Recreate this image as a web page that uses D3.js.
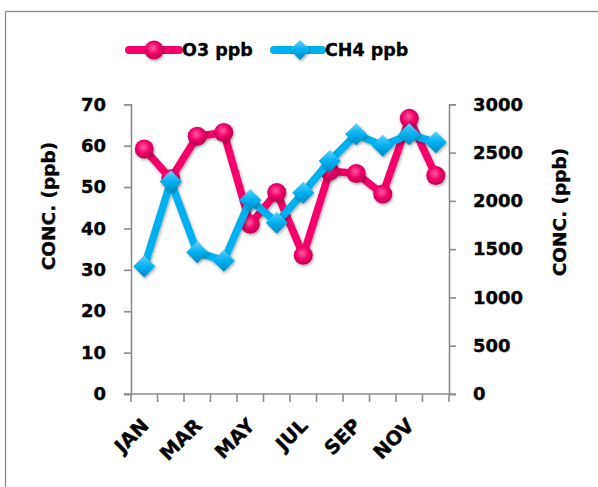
<!DOCTYPE html>
<html>
<head>
<meta charset="utf-8">
<script src="https://cdn.jsdelivr.net/npm/d3@7"></script>
<style>
  html, body { margin: 0; padding: 0; background: #fff; }
  svg { display: block; }
  text { font-family: "DejaVu Sans", sans-serif; font-weight: 700; fill: #000; stroke: #000; stroke-width: 0.35px; }
</style>
</head>
<body>
<svg id="chart" width="598" height="487"></svg>
<script>
// Monthly concentrations
const months = ["JAN","FEB","MAR","APR","MAY","JUN","JUL","AUG","SEP","OCT","NOV","DEC"];
const o3 = [59.2, 52.0, 62.3, 63.2, 41.0, 48.7, 33.5, 53.9, 53.3, 48.3, 66.6, 52.8];
const ch4 = [1320, 2200, 1467, 1381, 2009, 1774, 2085, 2413, 2689, 2572, 2689, 2606];
const leftTicks = [0, 10, 20, 30, 40, 50, 60, 70];
const rightTicks = [0, 500, 1000, 1500, 2000, 2500, 3000];
const shownMonths = ["JAN","MAR","MAY","JUL","SEP","NOV"];

const pink = "#F5006B";
const blue = "#00B0F0";
const axisGrey = "#8C8C8C";
const FONT = "'DejaVu Sans', sans-serif";

const svg = d3.select("#chart");

// outer frame
svg.append("rect")
  .attr("x", 5.5).attr("y", 11.5)
  .attr("width", 640).attr("height", 520)
  .attr("fill", "#fff").attr("stroke", "#8C8C8C").attr("stroke-width", 1.3);

const defs = svg.append("defs");
const shadow = defs.append("filter").attr("id", "shadow")
  .attr("x", "-50%").attr("y", "-50%").attr("width", "200%").attr("height", "200%");
shadow.append("feDropShadow").attr("dx", 1).attr("dy", 1.5).attr("stdDeviation", 1.4)
  .attr("flood-color", "#000").attr("flood-opacity", 0.35);

const gPink = defs.append("radialGradient").attr("id", "gPink")
  .attr("cx", "45%").attr("cy", "40%").attr("r", "60%");
gPink.append("stop").attr("offset", "0%").attr("stop-color", "#FF5CA0");
gPink.append("stop").attr("offset", "55%").attr("stop-color", "#F0006A");
gPink.append("stop").attr("offset", "100%").attr("stop-color", "#B8004E");

const gBlue = defs.append("linearGradient").attr("id", "gBlue")
  .attr("x1", "0").attr("y1", "0").attr("x2", "0").attr("y2", "1");
gBlue.append("stop").attr("offset", "0%").attr("stop-color", "#5FD3FF");
gBlue.append("stop").attr("offset", "50%").attr("stop-color", "#00B0F0");
gBlue.append("stop").attr("offset", "100%").attr("stop-color", "#0088C0");

const plot = { left: 131, right: 449, top: 104.3, bottom: 394 };

const x = d3.scaleBand().domain(months).range([plot.left, plot.right]);
const yL = d3.scaleLinear().domain([0, 70]).range([plot.bottom, plot.top]);
const yR = d3.scaleLinear().domain([0, 3000]).range([plot.bottom, plot.top]);
const cx = m => x(m) + x.bandwidth() / 2;

function styleAxis(g) {
  g.selectAll("path.domain").attr("stroke", axisGrey).attr("stroke-width", 1.6);
  g.selectAll(".tick line").attr("stroke", axisGrey).attr("stroke-width", 1.6);
  g.selectAll(".tick text").attr("font-family", FONT)
    .attr("font-weight", 700).attr("font-size", 18).attr("fill", "#000");
}

// left axis
const axL = svg.append("g").attr("transform", `translate(${plot.left},0)`)
  .call(d3.axisLeft(yL).tickValues(leftTicks).tickFormat(d3.format("d"))
    .tickSize(7).tickSizeOuter(7).tickPadding(18));
styleAxis(axL);

// right axis
const axR = svg.append("g").attr("transform", `translate(${plot.right},0)`)
  .call(d3.axisRight(yR).tickValues(rightTicks).tickFormat(d3.format("d"))
    .tickSize(7).tickSizeOuter(7).tickPadding(17));
styleAxis(axR);

// category axis: ticks at band edges
const edges = months.map(m => x(m)).concat([plot.right]);
const axX = svg.append("g").attr("transform", `translate(0,${plot.bottom})`);
axX.append("line").attr("x1", plot.left - 7).attr("x2", plot.right + 7)
  .attr("y1", 0).attr("y2", 0).attr("stroke", axisGrey).attr("stroke-width", 1.6);
axX.selectAll("line.tk").data(edges).join("line").attr("class", "tk")
  .attr("x1", d => d).attr("x2", d => d).attr("y1", 0).attr("y2", 8)
  .attr("stroke", axisGrey).attr("stroke-width", 1.6);
axX.selectAll("text.mlab").data(shownMonths).join("text").attr("class", "mlab")
  .attr("transform", d => `translate(${cx(d) + 1},${28}) rotate(-45)`)
  .attr("text-anchor", "end").attr("dy", "0.35em")
  .attr("font-size", 19.5).text(d => d);

// axis titles
svg.append("text").attr("transform", `translate(49,206) rotate(-90)`)
  .attr("text-anchor", "middle").attr("dy", "0.35em").attr("font-size", 18.5)
  .text("CONC. (ppb)");
svg.append("text").attr("transform", `translate(560,212) rotate(-90)`)
  .attr("text-anchor", "middle").attr("dy", "0.35em").attr("font-size", 18.5)
  .text("CONC. (ppb)");

// series lines
const lineL = d3.line().x((d, i) => cx(months[i])).y(d => yL(d));
const lineR = d3.line().x((d, i) => cx(months[i])).y(d => yR(d));

const diamond = s => `M0,${-s}L${s},0L0,${s}L${-s},0Z`;

svg.append("path").datum(o3).attr("d", lineL).attr("fill", "none")
  .attr("stroke", pink).attr("stroke-width", 7.5).attr("stroke-linejoin", "round")
  .attr("filter", "url(#shadow)");
svg.append("g").selectAll("circle").data(o3).join("circle")
  .attr("cx", (d, i) => cx(months[i])).attr("cy", d => yL(d)).attr("r", 9.5)
  .attr("fill", "url(#gPink)").attr("filter", "url(#shadow)");

svg.append("path").datum(ch4).attr("d", lineR).attr("fill", "none")
  .attr("stroke", blue).attr("stroke-width", 7.5).attr("stroke-linejoin", "round")
  .attr("filter", "url(#shadow)");
svg.append("g").selectAll("path.dia").data(ch4).join("path").attr("class", "dia")
  .attr("transform", (d, i) => `translate(${cx(months[i])},${yR(d)})`)
  .attr("d", diamond(11)).attr("fill", "url(#gBlue)").attr("filter", "url(#shadow)");

// legend
const lg = svg.append("g").attr("transform", "translate(0,50)");
lg.append("line").attr("x1", 129).attr("x2", 179).attr("stroke", pink)
  .attr("stroke-width", 8).attr("stroke-linecap", "round");
lg.append("circle").attr("cx", 154).attr("cy", 0).attr("r", 9.5)
  .attr("fill", "url(#gPink)").attr("filter", "url(#shadow)");
lg.append("text").attr("x", 182).attr("dy", "0.35em").attr("font-size", 17.5).text("O3 ppb");
lg.append("line").attr("x1", 274).attr("x2", 322).attr("stroke", blue)
  .attr("stroke-width", 8).attr("stroke-linecap", "round");
lg.append("path").attr("transform", "translate(300,0)").attr("d", diamond(10))
  .attr("fill", "url(#gBlue)").attr("filter", "url(#shadow)");
lg.append("text").attr("x", 325).attr("dy", "0.35em").attr("font-size", 17.5).text("CH4 ppb");
</script>
</body>
</html>
